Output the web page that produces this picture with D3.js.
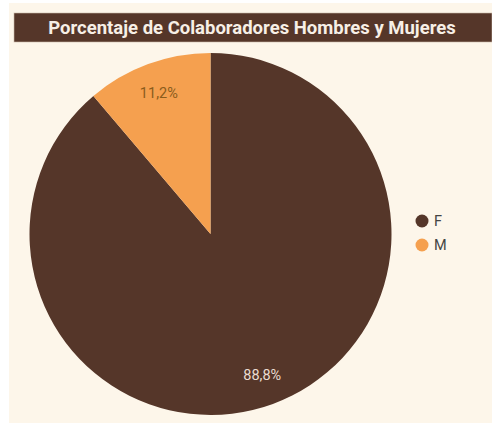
<!DOCTYPE html>
<html>
<head>
<meta charset="utf-8">
<script src="https://cdn.jsdelivr.net/npm/d3@7"></script>
<style>
  body { margin: 0; background: #ffffff; }
</style>
</head>
<body>
<div id="viz-container"></div>
<script>
// data
let categories = ["F", "M"];
let values = [88.8, 11.2];
let labels = ["88,8%", "11,2%"];
let colors = ["#553629", "#f5a04f"];
let labelColors = ["#eadbd0", "#8a5c1c"];

let viz = d3.select("#viz-container")
    .append("svg")
    .attr("width", 492)
    .attr("height", 423);

// panel background
viz.append("rect")
    .attr("x", 9).attr("y", 3)
    .attr("width", 483).attr("height", 420)
    .attr("fill", "#fdf6ea");

// title bar
viz.append("rect")
    .attr("x", 14).attr("y", 13)
    .attr("width", 478).attr("height", 29)
    .attr("fill", "#553629")
    .attr("stroke", "#c9b8a8")
    .attr("stroke-width", 0.6);

viz.append("text")
    .text("Porcentaje de Colaboradores Hombres y Mujeres")
    .attr("x", 252).attr("y", 34)
    .attr("text-anchor", "middle")
    .attr("font-family", "Roboto")
    .attr("font-weight", "bold")
    .attr("font-size", 18.5)
    .attr("fill", "#f7efe6");

let data = categories.map((c, i) => ({ cat: c, value: values[i], label: labels[i], i: i }));

let pie = d3.pie().sort(null).value(d => d.value);
let r = 181;
let arc = d3.arc().innerRadius(0).outerRadius(r);

let g = viz.append("g").attr("transform", "translate(210.5,234)");

let slices = g.selectAll(".slice").data(pie(data)).enter().append("g")
    .attr("class", "slice");

slices.append("path")
    .attr("d", arc)
    .attr("fill", d => colors[d.data.i]);

// labels placed near the outer edge
let labelArc = d3.arc().innerRadius(150).outerRadius(150);
slices.append("text")
    .text(d => d.data.label)
    .attr("transform", d => "translate(" + labelArc.centroid(d) + ")")
    .attr("text-anchor", "middle")
    .attr("dy", "0.35em")
    .attr("font-family", "Roboto")
    .attr("font-size", 14.5)
    .attr("fill", d => labelColors[d.data.i]);

// legend
let legend = viz.selectAll(".legend").data(categories).enter().append("g")
    .attr("class", "legend")
    .attr("transform", (d, i) => "translate(422," + (221 + i * 24) + ")");

legend.append("circle")
    .attr("r", 6.5)
    .attr("fill", (d, i) => colors[i]);

legend.append("text")
    .text(d => d)
    .attr("x", 12)
    .attr("dy", "0.35em")
    .attr("font-family", "Roboto")
    .attr("font-size", 14.5)
    .attr("fill", "#444");
</script>
</body>
</html>
